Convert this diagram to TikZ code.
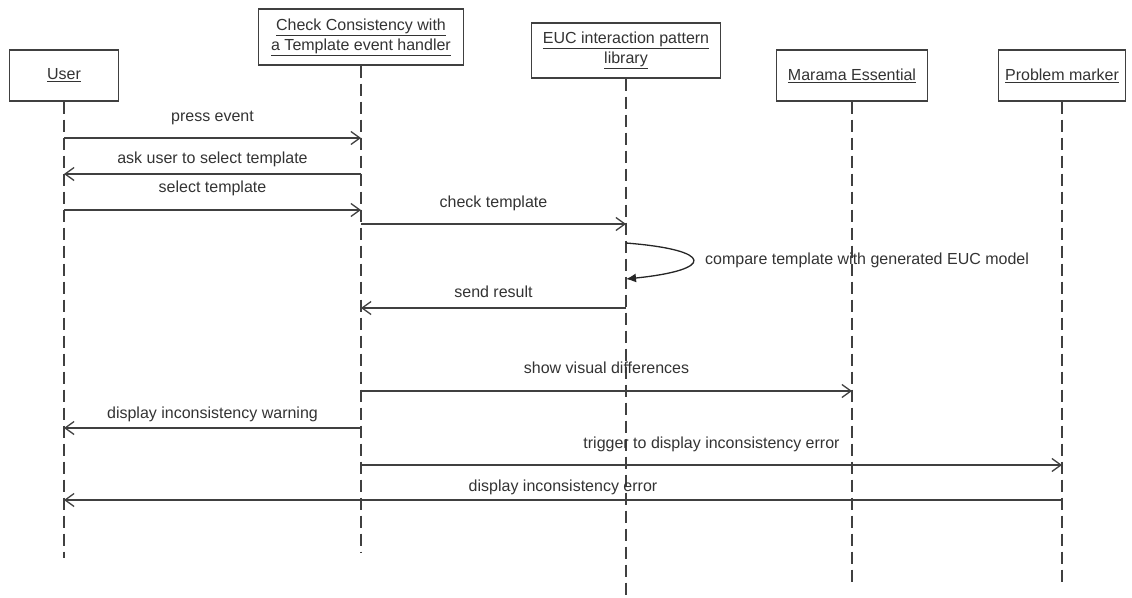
\documentclass[tikz,border=0pt]{standalone}
\usepackage{fontspec}
\setmainfont{Liberation Sans}
\usetikzlibrary{arrows.meta, positioning, calc}
\tikzstyle{object} = [rectangle, draw=black!75, line width=1.3pt, fill=white, text=black!80, align=center, inner sep=0pt, font=\fontsize{16}{20}\selectfont]
\tikzstyle{lifeline} = [draw=black!75, line width=1.3pt, dash pattern=on 12pt off 6pt]
\tikzstyle{msg} = [draw=black!75, line width=1.3pt, -{Straight Barb[length=9pt,width=13pt]}]
\tikzstyle{selfmsg} = [draw=black!85, line width=1.3pt, -{Latex[length=10pt,width=9pt]}]
\tikzstyle{lbl} = [text=black!80, inner sep=0pt, anchor=base, font=\fontsize{16}{20}\selectfont]

\begin{document}
\begin{tikzpicture}[x=1pt, y=-1pt]
    \useasboundingbox (0,0) rectangle (1132,597);

    % Objects
    \node (user) [object, minimum width=109pt, minimum height=51pt] at (64,75.5) {\underline{User}};
    \node (check) [object, minimum width=205pt, minimum height=56pt] at (361,37) {\underline{Check Consistency with}\\\underline{a Template event handler}};
    \node (euc) [object, minimum width=189pt, minimum height=55pt] at (626,50.5) {\underline{EUC interaction pattern}\\\underline{library}};
    \node (marama) [object, minimum width=151pt, minimum height=51pt] at (852,75.5) {\underline{Marama Essential}};
    \node (problem) [object, minimum width=127pt, minimum height=51pt] at (1062,75.5) {\underline{Problem marker}};

    % Lifelines
    \coordinate (userEnd) at (64,558);
    \coordinate (checkEnd) at (361,553);
    \coordinate (eucEnd) at (626,597);
    \coordinate (maramaEnd) at (852,587);
    \coordinate (problemEnd) at (1062,587);
    \draw[lifeline] (user.south) -- (userEnd);
    \draw[lifeline] (check.south) -- (checkEnd);
    \draw[lifeline] (euc.south) -- (eucEnd);
    \draw[lifeline] (marama.south) -- (maramaEnd);
    \draw[lifeline] (problem.south) -- (problemEnd);

    % Message rows
    \coordinate (m1) at (0,138);
    \coordinate (m2) at (0,174);
    \coordinate (m3) at (0,210);
    \coordinate (m4) at (0,224);
    \coordinate (l1) at (0,243);
    \coordinate (l2) at (0,279);
    \coordinate (m5) at (0,308);
    \coordinate (m6) at (0,391);
    \coordinate (m7) at (0,428);
    \coordinate (m8) at (0,465);
    \coordinate (m9) at (0,500);

    % Messages
    \draw[msg] (user |- m1) -- node[lbl, yshift=17pt] {press event} (check |- m1);
    \draw[msg] (check |- m2) -- node[lbl, yshift=11pt] {ask user to select template} (user |- m2);
    \draw[msg] (user |- m3) -- node[lbl, yshift=18pt] {select template} (check |- m3);
    \draw[msg] (check |- m4) -- node[lbl, yshift=17pt] {check template} (euc |- m4);

    % Self call
    \draw[selfmsg] (euc |- l1) .. controls ($(euc |- l1)+(89,7)$) and ($(euc |- l2)+(89,-9)$) .. (euc |- l2);
    \node (compare) [lbl, anchor=west] at (705,260) {compare template with generated EUC model};

    \draw[msg] (euc |- m5) -- node[lbl, yshift=11pt] {send result} (check |- m5);
    \draw[msg] (check |- m6) -- node[lbl, yshift=18pt] {show visual differences} (marama |- m6);
    \draw[msg] (check |- m7) -- node[lbl, yshift=10pt] {display inconsistency warning} (user |- m7);
    \draw[msg] (check |- m8) -- node[lbl, yshift=17pt] {trigger to display inconsistency error} (problem |- m8);
    \draw[msg] (problem |- m9) -- node[lbl, yshift=9pt] {display inconsistency error} (user |- m9);
\end{tikzpicture}
\end{document}
